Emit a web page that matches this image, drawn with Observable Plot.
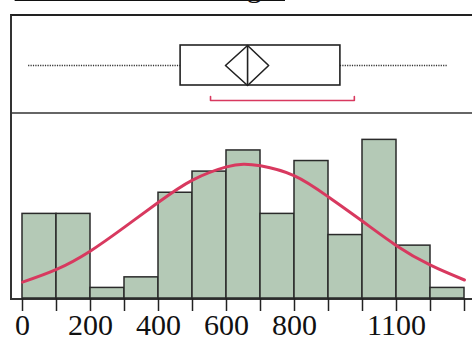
<!DOCTYPE html>
<html>
<head>
<meta charset="utf-8">
<script src="https://cdn.jsdelivr.net/npm/d3@7"></script>
<script src="https://cdn.jsdelivr.net/npm/@observablehq/plot@0.6"></script>
<style>
  html, body { margin: 0; padding: 0; background: #fff; width: 472px; height: 338px; overflow: hidden; }
  #wrap { position: relative; width: 472px; height: 338px; overflow: hidden; }
  #title { position: absolute; right: 187px; top: -28px; font: 30px/30px "Liberation Serif", serif; white-space: nowrap; text-decoration: underline; text-decoration-thickness: 3px; text-underline-offset: 1px; text-decoration-skip-ink: none; color: #111; }
  #frame { position: absolute; left: 10px; top: 14px; width: 500px; height: 282px; border-top: 2px solid #222; border-left: 2px solid #333; border-bottom: 2px solid #333; }
  #sep { position: absolute; left: 12px; top: 112px; width: 480px; height: 0; border-top: 2px solid #666; }
  #box { position: absolute; left: 0; top: 15px; }
  #hist { position: absolute; left: 0; top: 114px; }
  svg { background: transparent !important; overflow: visible; }
</style>
</head>
<body>
<div id="wrap">
  <div id="title">Distribution of Weight</div>
  <div id="frame"></div>
  <div id="sep"></div>
  <div id="box"></div>
  <div id="hist"></div>
</div>
<script>
// Histogram bins (lower edge) and counts
const binStarts = [0, 100, 200, 300, 400, 500, 600, 700, 800, 900, 1000, 1100, 1200];
const binWidth = 100;
const counts = [8, 8, 1, 2, 10, 12, 14, 8, 13, 6, 15, 5, 1];

// Fitted normal curve
const curveX = [0, 100, 200, 300, 400, 500, 600, 650, 700, 800, 900, 1000, 1100, 1200, 1300];
const curveY = [1.55, 2.75, 4.5, 6.75, 9.1, 11.2, 12.45, 12.7, 12.55, 11.6, 9.6, 7.3, 5.0, 3.15, 1.75];

// Outlier box plot summary
const whiskerLow = 18;
const q1 = 465;
const median = 662;
const q3 = 935;
const whiskerHigh = 1250;
const meanCI = [597, 724];
const mean = 662;
const shortestHalf = [553, 976];

// Tick labels
const tickValues = [0, 100, 200, 300, 400, 500, 600, 700, 800, 900, 1000, 1100, 1200, 1300];
const tickLabels = [0, 200, 400, 600, 800, 1100];

const W = 472;
const xDomain = [0, 1300];
const mL = 22, mR = 8;
const red = "#d8395f";

// ---------- box plot panel ----------
const boxData = [{q1, q3}];
const diamond = [
  {x: meanCI[0], y: 0}, {x: mean, y: 1}, {x: meanCI[1], y: 0}, {x: mean, y: -1}, {x: meanCI[0], y: 0}
];
const bracket = [
  {x: shortestHalf[0], y: -1.55}, {x: shortestHalf[0], y: -1.75},
  {x: shortestHalf[1], y: -1.75}, {x: shortestHalf[1], y: -1.55}
];
const boxPlot = Plot.plot({
  width: W, height: 98,
  marginLeft: mL, marginRight: mR, marginTop: 30, marginBottom: 28,
  x: {domain: xDomain, axis: null},
  y: {domain: [-1, 1], axis: null},
  marks: [
    Plot.ruleY([0], {x1: whiskerLow, x2: q1, stroke: "#333", strokeWidth: 1.3, strokeDasharray: "1.2,1.2"}),
    Plot.ruleY([0], {x1: q3, x2: whiskerHigh, stroke: "#333", strokeWidth: 1.3, strokeDasharray: "1.2,1.2"}),
    Plot.rect(boxData, {x1: "q1", x2: "q3", y1: -1, y2: 1, fill: "none", stroke: "#222", strokeWidth: 1.6}),
    Plot.ruleX([median], {y1: -1, y2: 1, stroke: "#222", strokeWidth: 1.6}),
    Plot.line(diamond, {x: "x", y: "y", stroke: "#222", strokeWidth: 1.6}),
    Plot.line(bracket, {x: "x", y: "y", stroke: red, strokeWidth: 1.6})
  ]
});
document.getElementById("box").appendChild(boxPlot);

// ---------- histogram panel ----------
const bins = binStarts.map((s, i) => ({x1: s, x2: s + binWidth, count: counts[i]}));
const curve = curveX.map((x, i) => ({x, y: curveY[i]}));
const hist = Plot.plot({
  width: W, height: 224,
  marginLeft: mL, marginRight: mR, marginTop: 0, marginBottom: 40,
  style: {fontFamily: "'Liberation Serif', serif", fontSize: "30px", color: "#111"},
  x: {domain: xDomain},
  y: {domain: [0, 17.4], axis: null},
  marks: [
    Plot.rectY(bins, {x1: "x1", x2: "x2", y: "count", fill: "#b4c9b6", stroke: "#2a2a2a", strokeWidth: 1.5, insetLeft: 0, insetRight: 0}),
    Plot.line(curve, {x: "x", y: "y", stroke: red, strokeWidth: 3, curve: "natural"}),
    Plot.axisX({
      ticks: tickValues, tickSize: 13, tickPadding: 2, strokeWidth: 1.5, stroke: "#222",
      tickFormat: d => tickLabels.includes(d) ? String(d) : "",
      fontSize: 30
    })
  ]
});
document.getElementById("hist").appendChild(hist);
</script>
</body>
</html>
